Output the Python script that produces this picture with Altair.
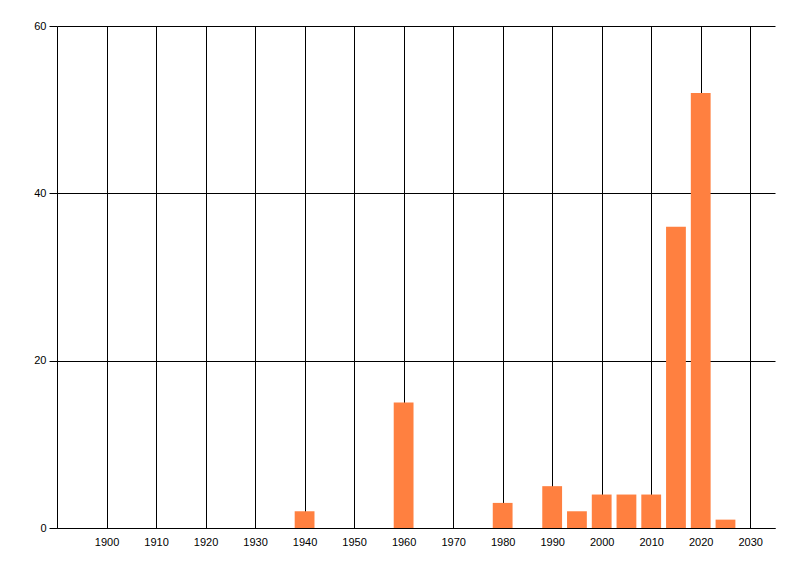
import altair as alt
import pandas as pd

years = [1940, 1960, 1980, 1990, 1995, 2000, 2005, 2010, 2015, 2020, 2025]
counts = [2, 15, 3, 5, 2, 4, 4, 4, 36, 52, 1]
x_ticks = [1900, 1910, 1920, 1930, 1940, 1950, 1960, 1970, 1980, 1990, 2000, 2010, 2020, 2030]
y_ticks = [0, 20, 40, 60]

df = pd.DataFrame({"year": years, "count": counts})
df["x0"] = df["year"] - 2
df["x1"] = df["year"] + 2

FONT = "Liberation Sans"

chart = alt.Chart(df).mark_rect(color="#FF8040").encode(
    x=alt.X("x0:Q",
            scale=alt.Scale(domain=[1890, 2035], nice=False, zero=False),
            axis=alt.Axis(values=x_ticks, format="d", title=None, grid=True,
                          gridColor="black", gridOpacity=1, gridWidth=1,
                          ticks=False, tickSize=0, labelPadding=8,
                          domainColor="black", domainWidth=1,
                          labelColor="black", labelFont=FONT, labelFontSize=11)),
    x2="x1:Q",
    y=alt.Y("count:Q",
            scale=alt.Scale(domain=[0, 60], nice=False),
            axis=alt.Axis(values=y_ticks, title=None, grid=True,
                          gridColor="black", gridOpacity=1, gridWidth=1,
                          ticks=True, tickSize=8, tickColor="black", tickWidth=1,
                          labelPadding=3, domainColor="black", domainWidth=1,
                          labelColor="black", labelFont=FONT, labelFontSize=11)),
    y2=alt.datum(0),
).properties(
    width=718, height=502,
    autosize=alt.AutoSizeParams(type="none"),
    padding={"left": 49, "top": 18, "right": 10, "bottom": 30},
).configure(background="white").configure_view(stroke=None, strokeWidth=0)

chart.save("out.html", embed_options={"renderer": "svg", "actions": False})
